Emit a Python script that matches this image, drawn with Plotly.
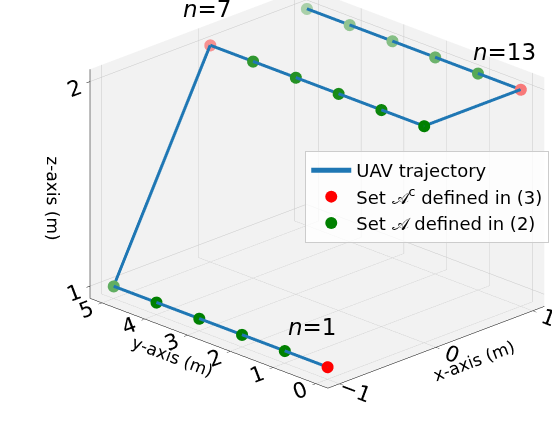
import plotly.graph_objects as go

# UAV trajectory waypoints (n = 1..18)
x_vals = [-1, -1, -1, -1, -1, -1, 0, 0, 0, 0, 0, 0, 1, 1, 1, 1, 1, 1]
y_vals = [0, 1, 2, 3, 4, 5, 5, 4, 3, 2, 1, 0, 0, 1, 2, 3, 4, 5]
z_vals = [1, 1, 1, 1, 1, 1, 2, 2, 2, 2, 2, 2, 2, 2, 2, 2, 2, 2]

red_idx = [0, 6, 12]          # Set A^c (n = 1, 7, 13)
green_idx = [i for i in range(18) if i not in red_idx]
labels = {0: "<i>n</i>=1", 6: "<i>n</i>=7", 12: "<i>n</i>=13"}

# depth-shading alpha (emulates matplotlib depthshade)
red_alpha = [1.0, 0.4, 0.5]
green_alpha = [1.0, 1.0, 1.0, 1.0, 0.6,
               0.8, 0.85, 0.9, 0.95, 1.0,
               0.65, 0.55, 0.45, 0.4, 0.3]


def shade(rgb, a, bg=(242, 242, 242)):
    return "rgb(%d,%d,%d)" % tuple(round(a * c + (1 - a) * b) for c, b in zip(rgb, bg))


fig = go.Figure()
fig.add_trace(go.Scatter3d(
    x=x_vals, y=y_vals, z=z_vals, mode="lines",
    line=dict(color="#1f77b4", width=6), name="UAV trajectory"))
fig.add_trace(go.Scatter3d(
    x=[x_vals[i] for i in red_idx], y=[y_vals[i] for i in red_idx],
    z=[z_vals[i] for i in red_idx], mode="markers",
    marker=dict(size=7, color=[shade((255, 0, 0), a) for a in red_alpha], line=dict(width=0)),
    name="Set 𝒜<sup>c</sup> defined in (3)"))
fig.add_trace(go.Scatter3d(
    x=[x_vals[i] for i in green_idx], y=[y_vals[i] for i in green_idx],
    z=[z_vals[i] for i in green_idx], mode="markers",
    marker=dict(size=7, color=[shade((0, 128, 0), a) for a in green_alpha], line=dict(width=0)),
    name="Set 𝒜 defined in (2)"))

ann = []
shifts = {0: (-15, 40), 6: (-3, 36), 12: (-16, 38)}
for i, t in labels.items():
    ann.append(dict(x=x_vals[i], y=y_vals[i], z=z_vals[i], text=t, showarrow=False,
                    xshift=shifts[i][0], yshift=shifts[i][1],
                    font=dict(size=23, color="black")))

axis_common = dict(
    backgroundcolor="rgb(242,242,242)", showbackground=True,
    gridcolor="#c8c8c8", gridwidth=1, showline=True, linecolor="black", linewidth=1,
    ticks="outside", tickcolor="black", ticklen=5,
    tickfont=dict(size=16, color="black"), zeroline=False, showspikes=False)

cx, cy, cz = -0.134, 0.134, -0.145
fig.update_layout(
    width=552, height=434, margin=dict(l=0, r=0, t=0, b=0),
    paper_bgcolor="white",
    font=dict(family="DejaVu Sans", color="black"),
    scene=dict(
        domain=dict(x=[0, 1], y=[0, 1]),
        xaxis=dict(axis_common, range=[-1.12, 1.12], tickvals=[-1, 0, 1],
                   ticktext=["−1", "0", "1"],
                   title=dict(text="x-axis (m)", font=dict(size=17))),
        yaxis=dict(axis_common, range=[-0.28, 5.28], tickvals=[0, 1, 2, 3, 4, 5],
                   title=dict(text="y-axis (m)", font=dict(size=17))),
        zaxis=dict(axis_common, range=[0.94, 2.06], tickvals=[1, 2],
                   title=dict(text="z-axis (m)", font=dict(size=17))),
        aspectmode="manual", aspectratio=dict(x=1.41, y=1.55, z=1.14),
        camera=dict(eye=dict(x=-1.3 + cx, y=-1.3 + cy, z=0.75 + cz),
                    center=dict(x=cx, y=cy, z=cz),
                    up=dict(x=0, y=0, z=1), projection=dict(type="orthographic")),
        annotations=ann),
    legend=dict(x=0.553, y=0.652, xanchor="left", yanchor="top",
                bgcolor="rgba(255,255,255,0.8)", bordercolor="#cccccc", borderwidth=1,
                font=dict(size=18), itemsizing="constant", itemwidth=40),
)
fig.write_html("out.html")
